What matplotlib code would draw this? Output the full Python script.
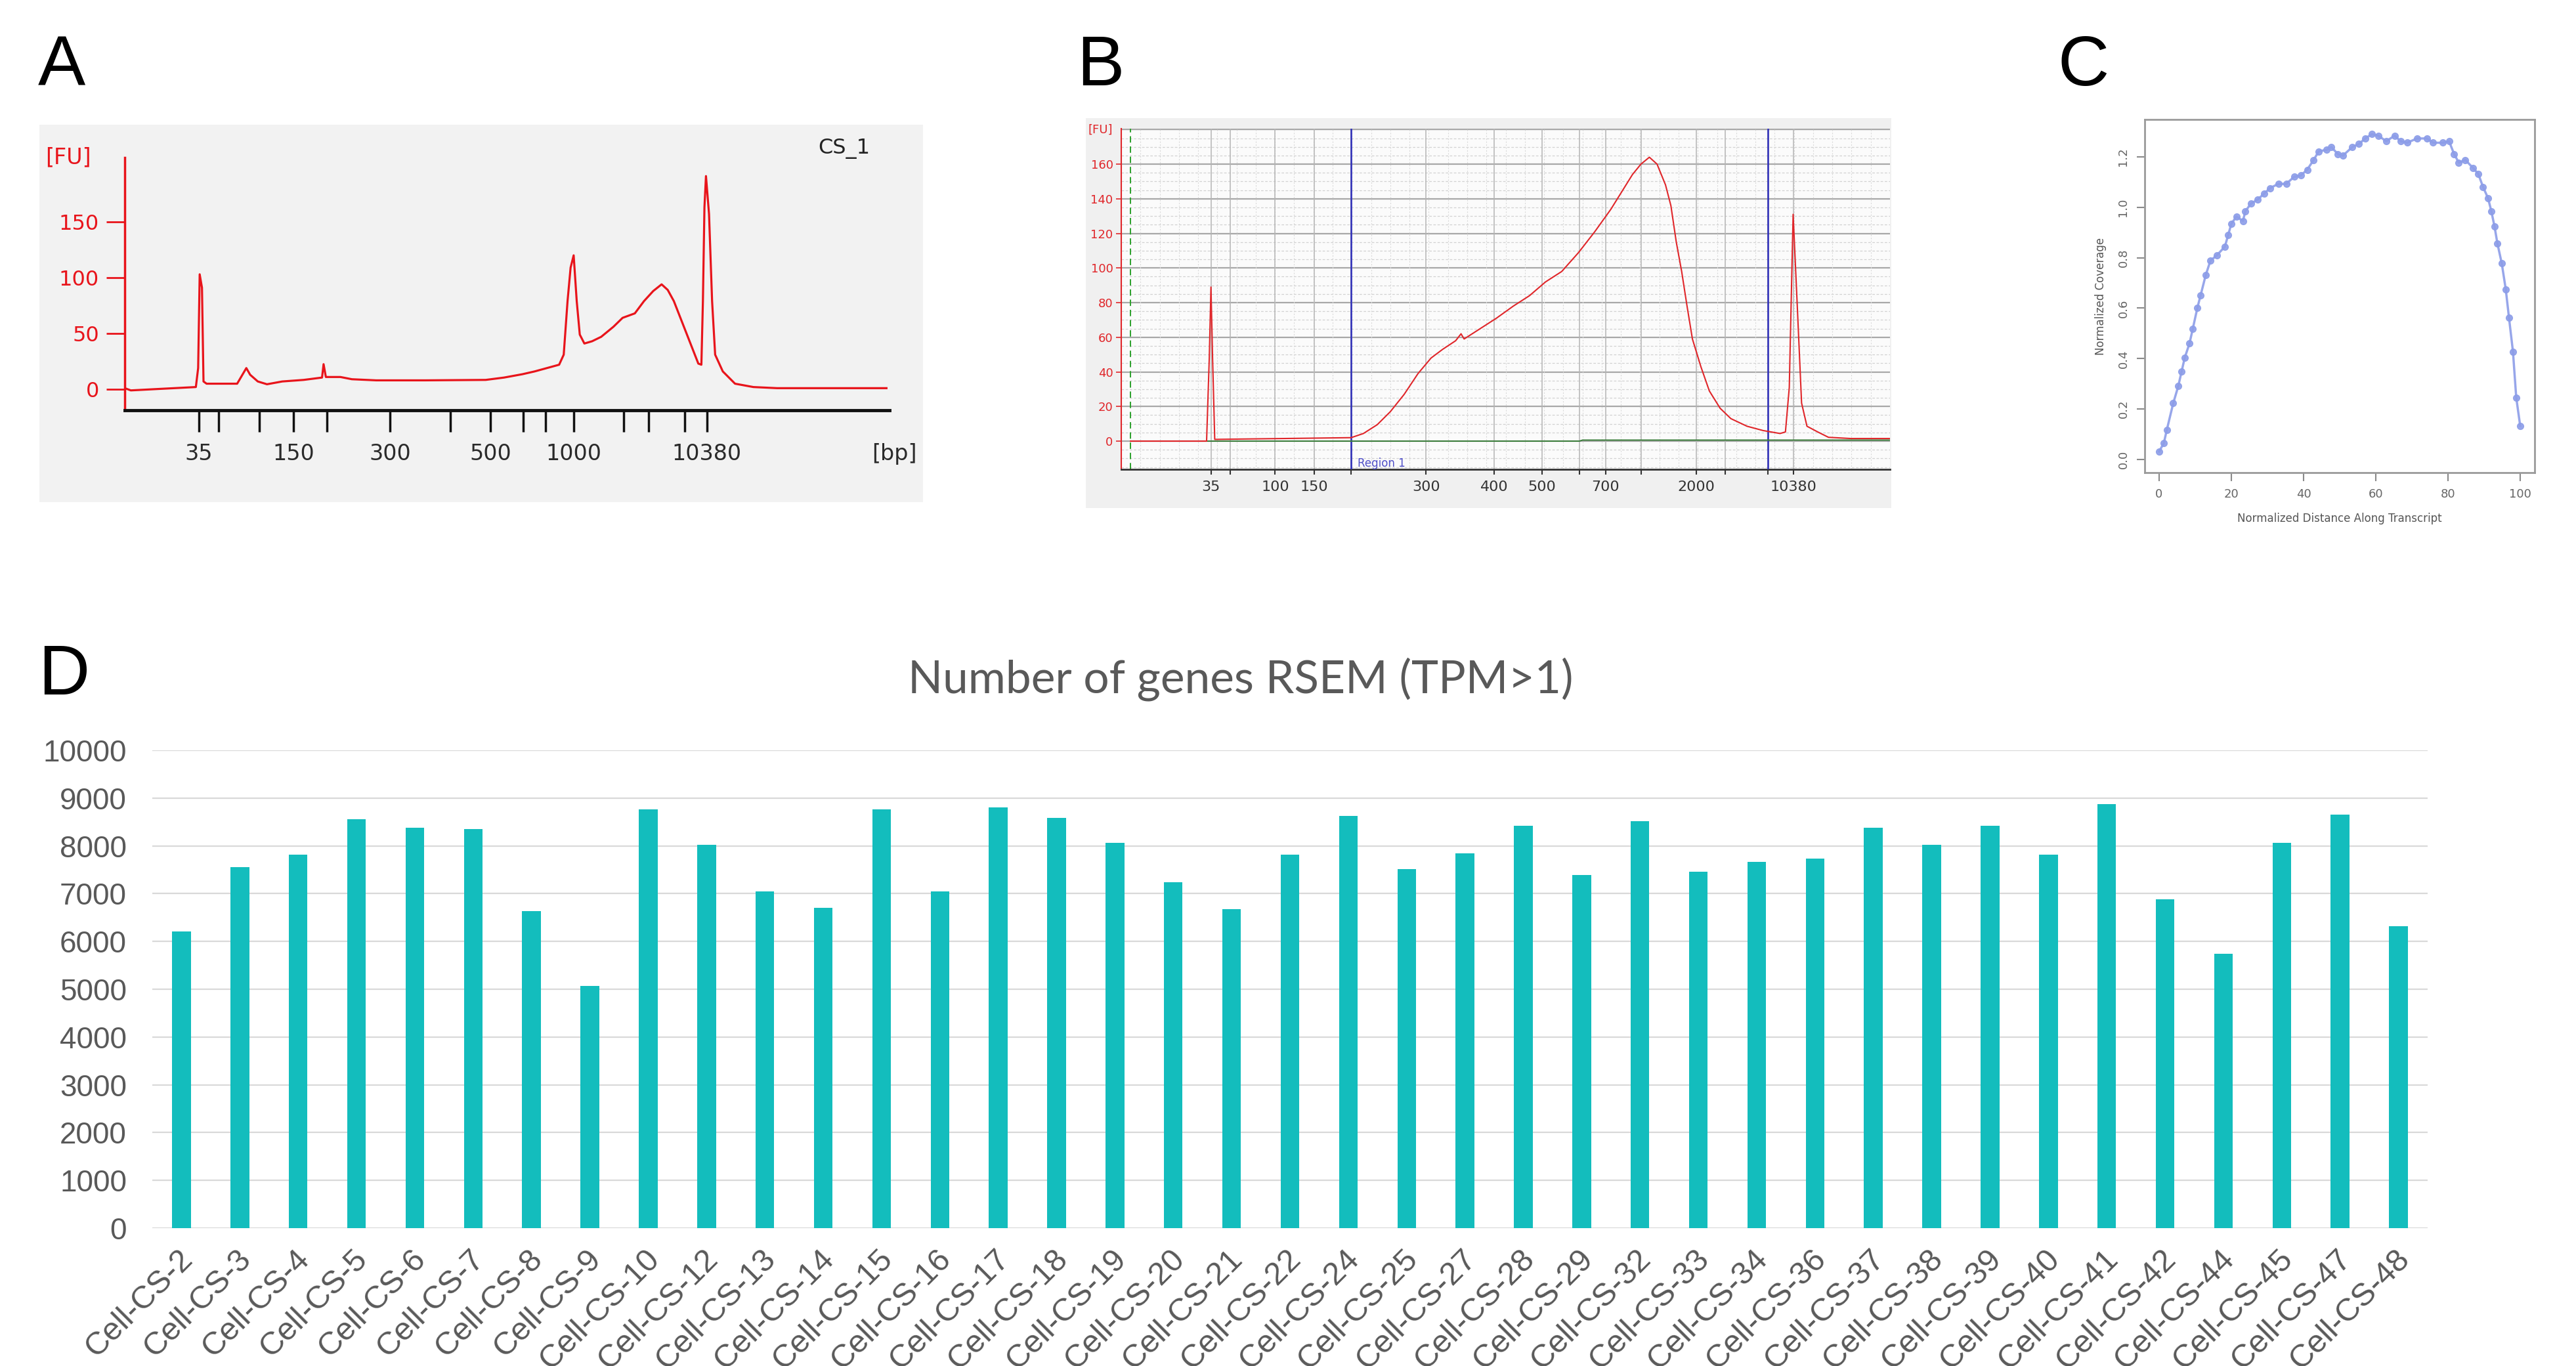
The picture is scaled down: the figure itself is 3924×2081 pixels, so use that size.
import matplotlib.pyplot as plt
import matplotlib.transforms as mtransforms
from matplotlib.patches import Rectangle

# ---- panel A: electropherogram CS_1 (x = position along the run, % of axis) ----
a_x = [0, 0.8, 9.3, 9.6, 9.8, 10.1, 10.3, 10.7, 14.7, 15.9, 16.4, 17.4, 18.6,
       20.6, 23.4, 25.8, 26.0, 26.3, 28.2, 29.7, 32.9, 39.3, 47.2, 49.6, 52.0,
       53.6, 55.2, 56.8, 57.4, 57.9, 58.3, 58.7, 59.1, 59.5, 60.1, 61.1, 62.3,
       63.9, 65.1, 66.7, 67.9, 69.1, 70.2, 71.0, 71.8, 73.0, 74.2, 75.0, 75.4,
       75.6, 75.8, 76.0, 76.4, 76.8, 77.2, 78.2, 79.8, 82.2, 85.3, 99.6]
a_fu = [1, -1, 2, 19, 103, 91, 7, 5, 5, 19, 13, 7, 4.5,
        7, 8.4, 10.5, 22.5, 11, 11, 9, 8, 8, 8.4, 10.5, 13.5,
        16, 19, 22, 31, 79, 109, 120, 79, 49, 41, 43, 47,
        56, 64, 68, 79, 88, 94, 89, 79, 58, 37, 23, 22,
        79, 163, 191, 157, 79, 31, 16, 5, 2, 1, 1]
a_tick_pos = [9.7, 12.3, 17.6, 22.1, 26.4, 34.7, 42.6, 47.8, 52.1, 55.0,
              58.7, 65.2, 68.5, 73.2, 76.1]
a_tick_lab = ['35', '', '', '150', '', '300', '', '500', '', '',
              '1000', '', '', '', '10380']
a_yticks = [0, 50, 100, 150]

# ---- panel B: electropherogram with region ----
b_x = [1.2, 11.1, 11.45, 11.67, 11.88, 12.16, 29.9, 31.5, 33.3, 35.0, 36.8,
       38.6, 40.3, 41.8, 43.5, 44.2, 44.6, 46.7, 48.8, 51.0, 53.1, 55.2, 57.3,
       59.5, 61.6, 63.7, 65.1, 66.5, 67.6, 68.7, 69.7, 70.8, 71.5, 72.2, 72.9,
       73.6, 74.3, 75.4, 76.5, 77.9, 79.3, 81.4, 83.5, 85.7, 86.4, 86.9, 87.4,
       87.9, 88.5, 89.2, 90.6, 92.0, 94.9, 100]
b_fu = [0, 0, 48, 89, 48, 1, 2, 4.4, 9.5, 17, 27,
        39, 48, 53, 58, 62, 59, 65, 71, 78, 84, 92, 98,
        109, 121, 134, 144, 154, 160, 164, 160, 148, 136, 115, 98,
        78, 59, 43, 29, 19, 13, 8.6, 6.1, 4.4, 5.3, 31, 131,
        82, 22, 8.6, 5.3, 2.2, 1.5, 1.5]
b_base_x = [1.2, 59.6, 60.0, 100]
b_base_fu = [0, 0, 0.6, 0.6]
b_tick_pos = [11.67, 14.14, 20.02, 25.12, 29.93, 39.63, 48.49, 54.72, 59.61,
              63.0, 67.61, 74.83, 78.58, 84.11, 87.43]
b_tick_lab = ['35', '', '100', '150', '', '300', '400', '500', '', '700',
              '', '2000', '', '', '10380']
b_region = [29.93, 84.11]
b_ladder_x = 1.19

# ---- panel C: gene body coverage ----
c_x = [0, 1.3, 2.1, 3.9, 5.3, 6.2, 7.1, 8.4, 9.3, 10.6, 11.5, 12.9, 14.2, 16.0,
       18.2, 19.1, 20.0, 21.4, 23.2, 23.9, 25.4, 27.2, 29.0, 30.7, 33.0, 35.2,
       37.4, 39.2, 41.0, 42.8, 44.2, 46.4, 47.7, 49.5, 50.9, 53.5, 55.3, 57.1,
       58.9, 60.7, 62.9, 65.2, 66.9, 68.7, 71.4, 74.1, 75.9, 78.6, 80.3, 81.7,
       83.0, 84.8, 87.0, 88.4, 89.7, 91.1, 92.0, 92.9, 93.7, 94.9, 96.0, 96.9,
       98.0, 98.9, 100]
c_cov = [0.032, 0.065, 0.116, 0.223, 0.291, 0.348, 0.404, 0.460, 0.517, 0.602,
         0.652, 0.731, 0.788, 0.810, 0.844, 0.889, 0.935, 0.963, 0.946, 0.985,
         1.014, 1.030, 1.053, 1.076, 1.093, 1.093, 1.121, 1.126, 1.149, 1.188,
         1.222, 1.228, 1.239, 1.211, 1.205, 1.239, 1.251, 1.273, 1.290, 1.284,
         1.262, 1.284, 1.262, 1.256, 1.273, 1.273, 1.256, 1.256, 1.262, 1.211,
         1.177, 1.188, 1.155, 1.132, 1.081, 1.036, 0.985, 0.923, 0.856, 0.777,
         0.675, 0.562, 0.427, 0.246, 0.133]

# ---- panel D: number of genes ----
cells = ['Cell-CS-2', 'Cell-CS-3', 'Cell-CS-4', 'Cell-CS-5', 'Cell-CS-6',
         'Cell-CS-7', 'Cell-CS-8', 'Cell-CS-9', 'Cell-CS-10', 'Cell-CS-12',
         'Cell-CS-13', 'Cell-CS-14', 'Cell-CS-15', 'Cell-CS-16', 'Cell-CS-17',
         'Cell-CS-18', 'Cell-CS-19', 'Cell-CS-20', 'Cell-CS-21', 'Cell-CS-22',
         'Cell-CS-24', 'Cell-CS-25', 'Cell-CS-27', 'Cell-CS-28', 'Cell-CS-29',
         'Cell-CS-32', 'Cell-CS-33', 'Cell-CS-34', 'Cell-CS-36', 'Cell-CS-37',
         'Cell-CS-38', 'Cell-CS-39', 'Cell-CS-40', 'Cell-CS-41', 'Cell-CS-42',
         'Cell-CS-44', 'Cell-CS-45', 'Cell-CS-47', 'Cell-CS-48']
n_genes = [6210, 7560, 7810, 8560, 8380, 8350, 6630, 5070, 8770, 8020,
           7050, 6700, 8770, 7050, 8810, 8590, 8070, 7240, 6670, 7810,
           8630, 7520, 7850, 8420, 7390, 8520, 7460, 7670, 7740, 8380,
           8020, 8420, 7810, 8880, 6880, 5740, 8070, 8660, 6320]

W, H = 3924, 2081
fig = plt.figure(figsize=(W / 100, H / 100), dpi=100)
fig.patch.set_facecolor('white')


def px_axes(l, t, r, b):
    ax = fig.add_axes([l / W, 1 - b / H, (r - l) / W, (b - t) / H])
    ax.set_zorder(2)
    return ax


def px_text(x, y, s, **kw):
    fig.text(x / W, 1 - y / H, s, **kw)


# panel letters
for lab, x, y in [('A', 58, 130), ('B', 1640, 130), ('C', 3135, 130), ('D', 58, 1058)]:
    px_text(x, y, lab, fontsize=78, family='Liberation Sans', va='baseline', ha='left')

# ================= A =================
fig.patches.append(Rectangle((60 / W, 1 - 765 / H), 1346 / W, 575 / H,
                             transform=fig.transFigure, facecolor='#f2f2f2',
                             edgecolor='none', zorder=-5))
red = '#e8141b'
axA = px_axes(190, 240, 1355, 625)
axA.patch.set_alpha(0)
axA.plot(a_x, a_fu, color=red, lw=2.3)
axA.set_xlim(0, 100)
axA.set_ylim(-18.8, 207.6)
for s in ['top', 'right']:
    axA.spines[s].set_visible(False)
axA.spines['left'].set_color(red)
axA.spines['left'].set_linewidth(2.5)
axA.spines['bottom'].set_color('#111111')
axA.spines['bottom'].set_linewidth(3.5)
axA.set_yticks(a_yticks)
axA.set_xticks(a_tick_pos)
axA.set_xticklabels(a_tick_lab)
axA.tick_params(axis='y', colors=red, length=20, width=2, pad=8, labelsize=23)
axA.tick_params(axis='x', colors='#111111', length=24, width=2.5, pad=12,
                labelsize=24, labelcolor='#2a2a2a')
for t in axA.get_yticklabels() + axA.get_xticklabels():
    t.set_family('DejaVu Sans')
px_text(104, 240, '[FU]', color=red, fontsize=24, ha='center', va='center')
px_text(1362, 692, '[bp]', color='#2a2a2a', fontsize=24, ha='center', va='center')
px_text(1286, 227, 'CS_1', color='#222222', fontsize=23, ha='center', va='center')

# ================= B =================
fig.patches.append(Rectangle((1654 / W, 1 - 774 / H), 1227 / W, 594 / H,
                             transform=fig.transFigure, facecolor='#f0f0f0',
                             edgecolor='none', zorder=-5))
axB = px_axes(1708, 196, 2879, 715)
axB.set_facecolor('#fbfbfb')
axB.set_xlim(0, 100)
axB.set_ylim(-16.3, 180.5)
for v in range(-15, 181, 5):
    if v % 20 == 0:
        axB.axhline(v, color='#a8a8a8', lw=1.6, zorder=1)
    else:
        axB.axhline(v, color='#d2d2d2', lw=0.9, ls=(0, (3, 2)), zorder=1)
axB.axhline(180, color='#a8a8a8', lw=1.6, zorder=1)
for i in range(1, 40):
    axB.axvline(i * 2.5, color='#dadada', lw=0.8, ls=(0, (2, 2)), zorder=1)
for p in b_tick_pos:
    axB.axvline(p, color='#b4b4b4', lw=1.1, zorder=1)
axB.axvline(b_ladder_x, color='#2ca02c', lw=1.4, ls=(0, (5, 3)), zorder=2)
for p in b_region:
    axB.axvline(p, color='#2b2bb8', lw=1.8, zorder=3)
axB.plot(b_base_x, b_base_fu, color='#3a7d3a', lw=1.4, zorder=3)
axB.plot(b_x, b_fu, color='#e0262a', lw=1.5, zorder=4)
axB.text(b_region[0] + 0.8, -12.9, 'Region 1', color='#5050c8', fontsize=12,
         ha='left', va='center')
for s in ['top', 'right']:
    axB.spines[s].set_visible(False)
axB.spines['left'].set_color('#e0262a')
axB.spines['left'].set_linewidth(1.5)
axB.spines['bottom'].set_color('#333333')
axB.spines['bottom'].set_linewidth(2)
axB.set_yticks(range(0, 161, 20))
axB.set_xticks(b_tick_pos)
axB.set_xticklabels(b_tick_lab)
axB.tick_params(axis='y', colors='#e0262a', length=6, width=1.2, pad=3, labelsize=13)
axB.tick_params(axis='x', colors='#333333', length=6, width=1.5, pad=6,
                labelsize=16, labelcolor='#333333')
px_text(1676, 198, '[FU]', color='#e0262a', fontsize=13, ha='center', va='center')

# ================= C =================
axC = px_axes(3267, 182.5, 3861, 720)
axC.plot(c_x, c_cov, color='#8c9de8', lw=2.5, marker='o', markersize=7,
         markerfacecolor='#8c9de8', markeredgecolor='#8c9de8', alpha=0.9)
axC.set_xlim(-4, 104)
axC.set_ylim(-0.052, 1.347)
for s in axC.spines.values():
    s.set_color('#9a9a9a')
    s.set_linewidth(2)
axC.set_xticks([0, 20, 40, 60, 80, 100])
axC.set_yticks([0.0, 0.2, 0.4, 0.6, 0.8, 1.0, 1.2])
axC.set_yticklabels(['0.0', '0.2', '0.4', '0.6', '0.8', '1.0', '1.2'],
                    rotation=90, va='center')
axC.tick_params(colors='#8a8a8a', length=9, width=1.5, labelsize=13,
                labelcolor='#666666', pad=8)
axC.set_xlabel('Normalized Distance Along Transcript', fontsize=12,
               color='#555555', labelpad=14)
axC.set_ylabel('Normalized Coverage', fontsize=12, color='#555555', labelpad=12)

# ================= D =================
axD = px_axes(232, 1143, 3698, 1871)
xpos = list(range(len(cells)))
axD.bar(xpos, n_genes, width=0.32, color='#13bdbd', zorder=3)
axD.set_xlim(-0.5, len(cells) - 0.5)
axD.set_ylim(0, 10000)
axD.set_yticks(range(0, 10001, 1000))
axD.yaxis.grid(True, color='#d9d9d9', lw=1.6, zorder=0)
for s in axD.spines.values():
    s.set_visible(False)
axD.axhline(0, color='#d9d9d9', lw=1.8, zorder=2)
axD.set_xticks(xpos)
axD.set_xticklabels(cells, rotation=45, ha='right', va='center',
                    rotation_mode='anchor')
axD.tick_params(axis='both', length=0, labelcolor='#595959', labelsize=33)
axD.tick_params(axis='x', pad=29, labelsize=35)
axD.tick_params(axis='y', pad=28)
shift = mtransforms.ScaledTranslation(0.1, 0, fig.dpi_scale_trans)
for t in axD.get_xticklabels():
    t.set_transform(t.get_transform() + shift)
for t in axD.get_yticklabels() + axD.get_xticklabels():
    t.set_family('Liberation Sans')
px_text(1890, 1055, 'Number of genes RSEM (TPM>1)', fontsize=50, family='Lato',
        color='#595959', ha='center', va='baseline')

fig.savefig('out.png', dpi=100)
